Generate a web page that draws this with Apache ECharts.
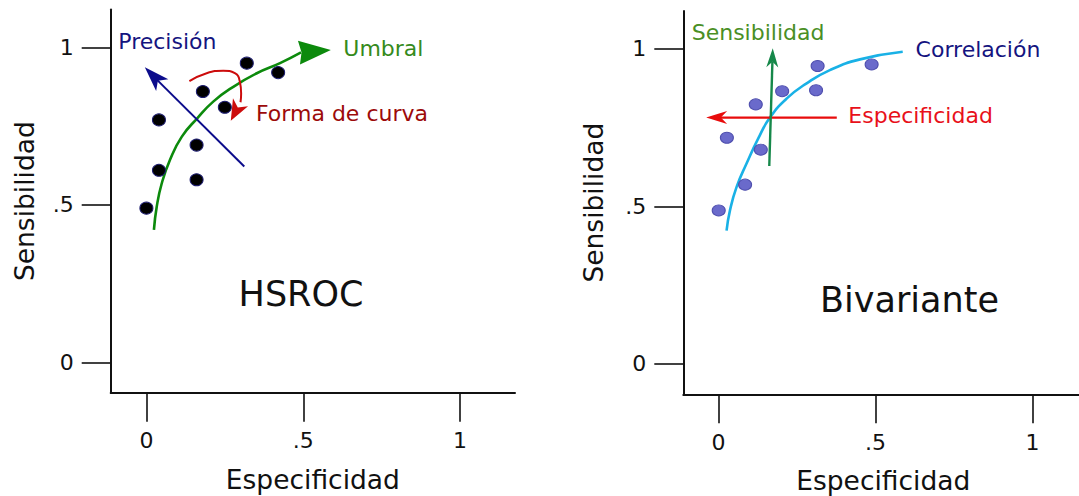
<!DOCTYPE html>
<html>
<head>
<meta charset="utf-8">
<script src="https://cdn.jsdelivr.net/npm/echarts@6/dist/echarts.min.js"></script>
<style>
html, body { margin: 0; padding: 0; background: #ffffff; }
#chart { width: 1079px; height: 496px; }
</style>
</head>
<body>
<div id="chart"></div>
<script>
// Axis ticks shared by both panels
const tickValues = [0, 0.5, 1];
const tickLabels = ['0', '.5', '1'];

// HSROC panel: study estimates (specificity, sensitivity)
const hsrocPoints = [
  [0.00, 0.49], [0.04, 0.61], [0.04, 0.77], [0.16, 0.58], [0.16, 0.69],
  [0.18, 0.86], [0.25, 0.81], [0.32, 0.95], [0.42, 0.92]
];
// Paths of the annotation arrows: the last two points are the neck and the tip of the head
const umbralPath = [
  [0.024, 0.421], [0.033, 0.495], [0.049, 0.569], [0.075, 0.643], [0.113, 0.717],
  [0.162, 0.775], [0.213, 0.828], [0.277, 0.875], [0.352, 0.918], [0.426, 0.950],
  [0.493, 0.984], [0.588, 0.992]
];
const precisionPath = [[0.312, 0.622], [0.034, 0.897], [-0.005, 0.937]];
const formaPath = [
  [0.137, 0.893], [0.192, 0.918], [0.245, 0.926], [0.282, 0.918], [0.298, 0.891],
  [0.302, 0.854], [0.300, 0.826], [0.269, 0.767]
];

// Bivariate panel
const bivPoints = [
  [0.001, 0.487], [0.085, 0.569], [0.027, 0.718], [0.135, 0.680], [0.119, 0.824],
  [0.203, 0.866], [0.311, 0.869], [0.316, 0.946], [0.488, 0.951]
];
const correlacionCurve = [
  [0.026, 0.423], [0.037, 0.488], [0.058, 0.562], [0.090, 0.637], [0.127, 0.716],
  [0.164, 0.782], [0.218, 0.843], [0.281, 0.891], [0.355, 0.933], [0.451, 0.967], [0.587, 0.991]
];
const especificidadPath = [[0.377, 0.782], [0.005, 0.782], [-0.039, 0.782]];
const sensibilidadPath = [[0.162, 0.628], [0.172, 0.959], [0.173, 1.002]];

const FONT = '"DejaVu Sans", Verdana, sans-serif';
const INK = '#111111';

// Arrowhead shapes (pixels): length, width, notch depth ratio, colour
const headStyles = [
  { len: 32, width: 24, notch: 0.92, color: '#0c8a0c' },  // Umbral
  { len: 25, width: 17, notch: 0.75, color: '#0c0c8c' },  // Precisión
  { len: 21, width: 17, notch: 0.72, color: '#cc0c0c' },  // Forma de curva
  { len: 21, width: 13, notch: 0.7, color: '#e80c0c' },   // Especificidad
  { len: 19, width: 12, notch: 0.7, color: '#16884a' }    // Sensibilidad
];

function headDatum(path, styleIndex) {
  const n = path.length;
  return [path[n - 2][0], path[n - 2][1], path[n - 1][0], path[n - 1][1], styleIndex];
}

function renderHead(params, api) {
  const neck = api.coord([api.value(0), api.value(1)]);
  const tip = api.coord([api.value(2), api.value(3)]);
  const st = headStyles[api.value(4)];
  let dx = tip[0] - neck[0], dy = tip[1] - neck[1];
  const d = Math.hypot(dx, dy) || 1;
  dx /= d; dy /= d;
  const nx = -dy, ny = dx;
  const bx = tip[0] - dx * st.len, by = tip[1] - dy * st.len;
  const hw = st.width / 2;
  const pts = [
    tip,
    [bx + nx * hw, by + ny * hw],
    [tip[0] - dx * st.len * st.notch, tip[1] - dy * st.len * st.notch],
    [bx - nx * hw, by - ny * hw]
  ];
  return { type: 'polygon', shape: { points: pts }, style: { fill: st.color } };
}

function valueAxis(gridIndex, min, max, isX, name, nameGap) {
  return {
    type: 'value', gridIndex: gridIndex, min: min, max: max,
    name: name, nameLocation: 'middle', nameGap: nameGap, nameRotate: isX ? 0 : 90,
    nameTextStyle: { fontFamily: FONT, fontSize: 26.5, color: INK },
    axisLine: { show: true, onZero: false, lineStyle: { color: INK, width: 2 } },
    axisTick: { show: true, inside: false, length: 29, customValues: tickValues,
                lineStyle: { color: INK, width: 1.6 } },
    axisLabel: { show: true, customValues: tickValues, margin: 37, fontFamily: FONT,
                 fontSize: 22, color: INK,
                 formatter: function (v) { const i = tickValues.indexOf(v); return i >= 0 ? tickLabels[i] : ''; } },
    splitLine: { show: false }
  };
}

function pathLine(path, gridIndex, color, width, smooth) {
  return {
    type: 'line', xAxisIndex: gridIndex, yAxisIndex: gridIndex,
    data: path.slice(0, -1), smooth: smooth, symbol: 'none', clip: false,
    lineStyle: { color: color, width: width }, z: 2, silent: true
  };
}

function label(text, x, y, size, color, align) {
  return {
    type: 'text', x: x, y: y, silent: true, z: 10,
    style: { text: text, fill: color, fontSize: size, fontFamily: FONT,
             align: align || 'left', verticalAlign: 'middle' }
  };
}

const chart = echarts.init(document.getElementById('chart'), null, { renderer: 'svg' });

chart.setOption({
  backgroundColor: '#ffffff',
  animation: false,
  grid: [
    { left: 110.7, top: 9.6, width: 404.3, height: 383.1, containLabel: false, outerBoundsMode: 'none' },
    { left: 683.3, top: 11, width: 400, height: 383.3, containLabel: false, outerBoundsMode: 'none' }
  ],
  xAxis: [
    valueAxis(0, -0.1138, 1.175, true, 'Especificidad', 73),
    valueAxis(1, -0.1118, 1.1621, true, 'Especificidad', 73)
  ],
  yAxis: [
    valueAxis(0, -0.0955, 1.1199, false, 'Sensibilidad', 73),
    valueAxis(1, -0.0972, 1.1207, false, 'Sensibilidad', 76)
  ],
  series: [
    // HSROC panel
    pathLine(umbralPath, 0, '#0c8a0c', 2.6, 0.5),
    pathLine(precisionPath, 0, '#0c0c8c', 2, false),
    pathLine(formaPath, 0, '#cc0c0c', 2, 0.5),
    {
      type: 'custom', xAxisIndex: 0, yAxisIndex: 0, z: 3, silent: true,
      renderItem: renderHead,
      data: [headDatum(umbralPath, 0), headDatum(precisionPath, 1), headDatum(formaPath, 2)]
    },
    {
      type: 'scatter', xAxisIndex: 0, yAxisIndex: 0, data: hsrocPoints, z: 4, silent: true,
      symbol: 'circle', symbolSize: [13, 12],
      itemStyle: { color: '#000000', borderColor: '#1c1c70', borderWidth: 1, opacity: 1 }
    },
    // Bivariate panel
    {
      type: 'line', xAxisIndex: 1, yAxisIndex: 1, data: correlacionCurve, smooth: 0.5,
      symbol: 'none', clip: false, lineStyle: { color: '#19b1e6', width: 2.6 }, z: 2, silent: true
    },
    pathLine(especificidadPath, 1, '#e80c0c', 2.4, false),
    pathLine(sensibilidadPath, 1, '#16884a', 2.4, false),
    {
      type: 'custom', xAxisIndex: 1, yAxisIndex: 1, z: 3, silent: true,
      renderItem: renderHead,
      data: [headDatum(especificidadPath, 3), headDatum(sensibilidadPath, 4)]
    },
    {
      type: 'scatter', xAxisIndex: 1, yAxisIndex: 1, data: bivPoints, z: 4, silent: true,
      symbol: 'circle', symbolSize: [13, 11],
      itemStyle: { color: '#6a6acb', borderColor: '#4f4fae', borderWidth: 1, opacity: 1 }
    }
  ],
  graphic: [
    label('Precisión', 118.3, 41.3, 22, '#14147f'),
    label('Umbral', 343.3, 48.3, 22, '#358a1c'),
    label('Forma de curva', 256, 113.3, 22, '#9c0a0a'),
    label('HSROC', 301, 293.8, 35, INK, 'center'),
    label('Sensibilidad', 691.7, 32.3, 22, '#4a8f25'),
    label('Correlación', 915.6, 49.5, 22, '#14147f'),
    label('Especificidad', 848.3, 115.3, 22, '#e8101a'),
    label('Bivariante', 909.5, 300, 35, INK, 'center')
  ]
});
</script>
</body>
</html>
